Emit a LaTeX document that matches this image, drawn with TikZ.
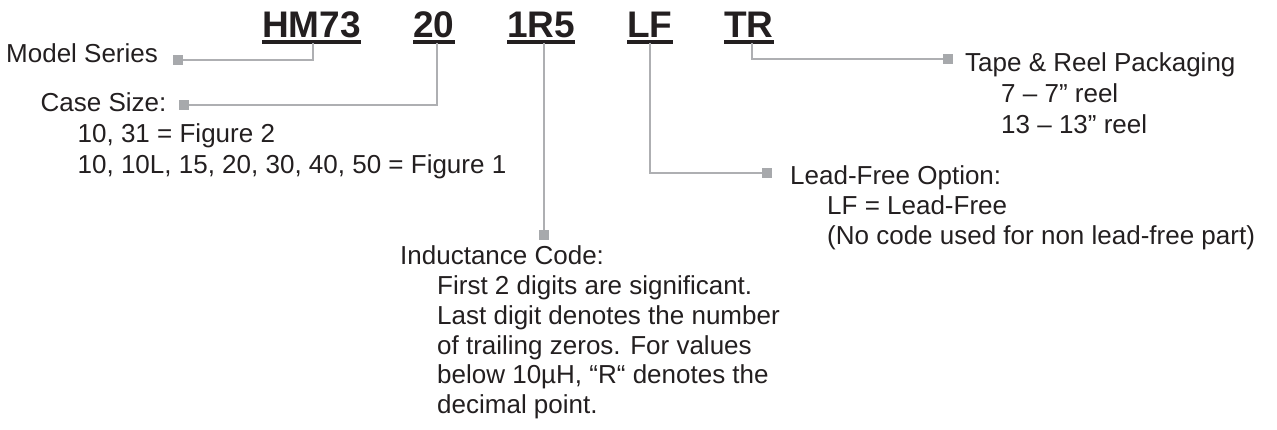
\documentclass[tikz,border=0pt]{standalone}
\usepackage{fontspec}
\setmainfont{Liberation Sans}
\definecolor{ink}{RGB}{35,31,32}
\definecolor{lgray}{RGB}{174,175,178}
\definecolor{sqgray}{RGB}{167,169,172}
\tikzset{
  code/.style={font=\fontsize{37}{40}\selectfont\bfseries, text=ink, inner sep=0pt, anchor=base west},
  lbl/.style={font=\fontsize{26}{30}\selectfont, text=ink, inner sep=0pt, anchor=base west},
  sq/.style={fill=sqgray, minimum size=10pt, inner sep=0pt, draw=none},
  conn/.style={draw=lgray, line width=2.6pt},
  uline/.style={draw=ink, line width=3.4pt}
}
\begin{document}
\begin{tikzpicture}[x=1pt,y=-1pt]
\useasboundingbox (0,0) rectangle (1277,430);

% part-number codes
\node[code] (hm)  at (262,37.3) {HM73};
\node[code] (c20) at (413,37.3) {20};
\node[code] (ind) at (507,37.3) {1R5};
\node[code] (lf)  at (627,37.3) {LF};
\node[code] (tr)  at (724,37.3) {TR};

\foreach \n in {hm,c20,ind,lf,tr}{
  \draw[uline] ([yshift=-4.8pt]\n.base west) -- ([yshift=-4.8pt]\n.base east);
}

% connector start points (bottom of underlines)
\coordinate (hmc)  at (313,43);
\coordinate (c20c) at (437,43);
\coordinate (indc) at (544,43);
\coordinate (lfc)  at (650,43);
\coordinate (trc)  at (752,43);

% squares
\node[sq] (sqms)  at (178,60) {};
\node[sq] (sqcs)  at (184,105) {};
\node[sq] (sqind) at (544,235) {};
\node[sq] (sqlf)  at (767,173) {};
\node[sq] (sqtr)  at (948,59) {};

% connectors
\draw[conn] (hmc) |- (sqms);
\draw[conn] (c20c) |- (sqcs);
\draw[conn] (indc) -- (sqind);
\draw[conn] (lfc) |- (sqlf);
\draw[conn] (trc) |- (sqtr);

% Model Series
\node[lbl] (ms) at (6,63) {Model Series};

% Case Size
\node[lbl] (cs)  at (40.5,112) {Case Size:};
\node[lbl] (cs1) at (77.5,143) {10, 31 = Figure 2};
\node[lbl] (cs2) at (77.5,174) {10, 10L, 15, 20, 30, 40, 50 = Figure 1};

% Inductance Code
\node[lbl] (ic)  at (400,265) {Inductance Code:};
\node[lbl] (ic1) at (437,294.7) {First 2 digits are significant.};
\node[lbl] (ic2) at (437,324.4) {Last digit denotes the number};
\node[lbl] (ic3) at (437,354.1) {of trailing zeros. For values};
\node[lbl] (ic4) at (437,383.8) {below 10µH, “R“ denotes the};
\node[lbl] (ic5) at (437,413.5) {decimal point.};

% Lead-Free
\node[lbl] (lo)  at (790,185) {Lead-Free Option:};
\node[lbl] (lo1) at (827,215) {LF = Lead-Free};
\node[lbl] (lo2) at (827,245) {(No code used for non lead-free part)};

% Tape & Reel
\node[lbl] (tp)  at (965,72) {Tape \& Reel Packaging};
\node[lbl] (tp1) at (1001,103) {7 – 7” reel};
\node[lbl] (tp2) at (1001,134) {13 – 13” reel};
\end{tikzpicture}
\end{document}
